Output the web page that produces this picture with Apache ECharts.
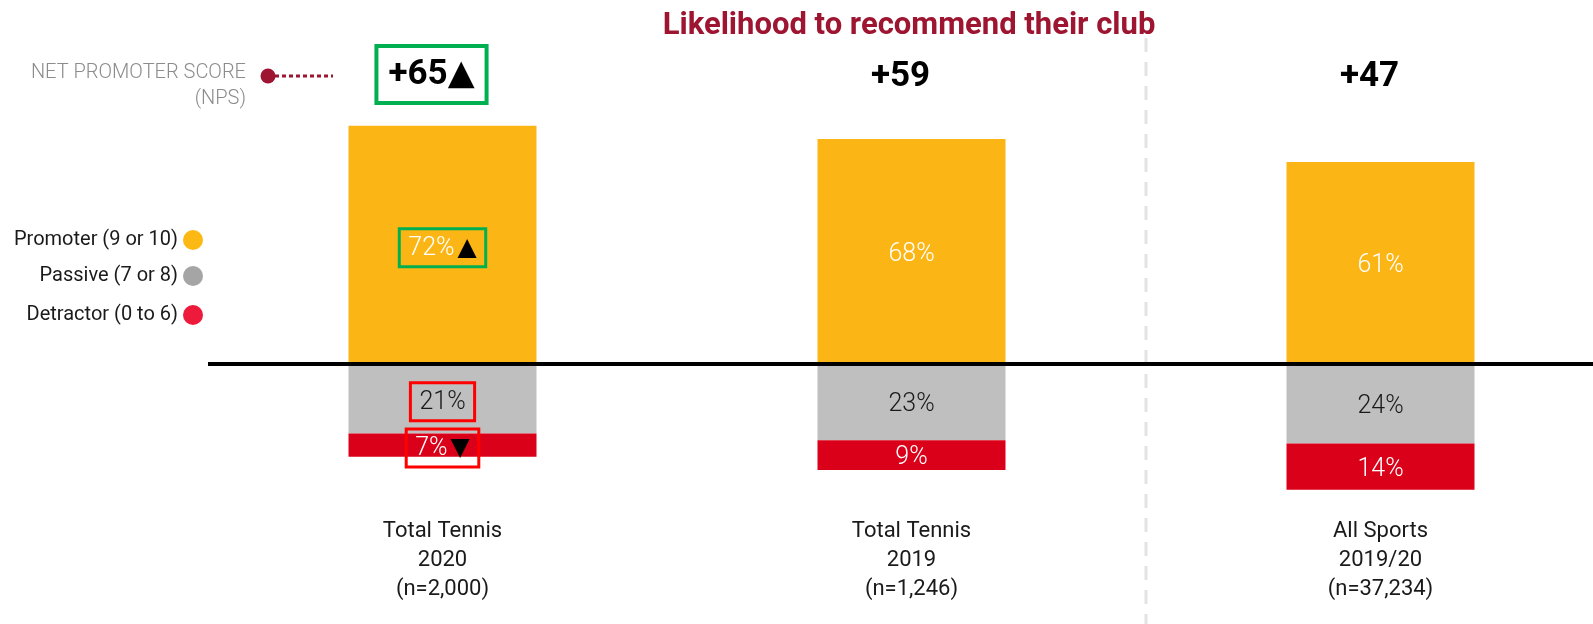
<!DOCTYPE html>
<html>
<head>
<meta charset="utf-8">
<script src="https://cdn.jsdelivr.net/npm/echarts@6/dist/echarts.min.js"></script>
<style>
html,body{margin:0;padding:0;background:#fff;}
#chart{width:1593px;height:624px;}
</style>
</head>
<body>
<div id="chart"></div>
<script>
// ---- data ----
const categories = ['Total Tennis\n2020\n(n=2,000)', 'Total Tennis\n2019\n(n=1,246)', 'All Sports\n2019/20\n(n=37,234)'];
const npsScores = ['+65', '+59', '+47'];
const npsMarks = ['▲', '', ''];
const npsHighlight = [true, false, false];
const promoterPct = [72, 68, 61];
const passivePct = [21, 23, 24];
const detractorPct = [7, 9, 14];
const promoterMarks = ['▲', '', ''];
const passiveMarks = ['', '', ''];
const detractorMarks = ['▼', '', ''];
const promoterHighlight = [true, false, false];
const passiveHighlight = [true, false, false];
const detractorHighlight = [true, false, false];
const seriesNames = ['Promoter (9 or 10)', 'Passive (7 or 8)', 'Detractor (0 to 6)'];

// ---- styling ----
const FONT = 'Roboto, "DejaVu Sans", sans-serif';
const barColors = ['#FBB615', '#BFBFBF', '#DA0019'];
const dotColors = ['#FDB913', '#A5A5A5', '#EE1A3C'];
const GREEN = '#00B050', RED = '#FF0000', MAROON = '#9D1530';

function buildData(values, highlight, boxColor, sign) {
  return values.map((v, i) => {
    const item = { value: sign * v };
    if (highlight[i]) {
      item.label = { borderColor: boxColor, borderWidth: 3, padding: [7, 9, 6, 9] };
    }
    return item;
  });
}
function labelFormatter(marks) {
  return p => {
    const m = marks[p.dataIndex];
    return '{v|' + Math.abs(p.value) + '%}' + (m ? '{m|' + m + '}' : '');
  };
}
function makeLabel(textColor, marks) {
  return {
    show: true, position: 'inside', offset: [0, 3],
    formatter: labelFormatter(marks),
    rich: {
      v: { color: textColor, fontSize: 25, fontWeight: 300, fontFamily: FONT },
      m: { color: '#000', fontSize: 25, fontFamily: FONT, padding: [0, 0, 0, 3] }
    }
  };
}

const chart = echarts.init(document.getElementById('chart'), null, { renderer: 'canvas' });

const legends = seriesNames.map((name, i) => ({
  data: [{ name: name, itemStyle: { color: dotColors[i] } }],
  icon: 'circle', itemWidth: 20, itemHeight: 20, align: 'right',
  right: 1390, top: [230, 266, 305][i], padding: 0,
  selectedMode: false,
  textStyle: { fontSize: 20, color: '#1a1a1a', fontFamily: FONT }
}));

const option = {
  animation: false,
  backgroundColor: '#fff',
  legend: legends,
  grid: { left: 208, width: 1407, top: 38, bottom: 0, containLabel: false, outerBoundsMode: 'none' },
  xAxis: [
    {
      type: 'category', data: categories, position: 'bottom',
      axisLine: { show: false }, axisTick: { show: false },
      axisLabel: {
        inside: true, margin: 20, fontSize: 22, lineHeight: 29,
        color: '#1a1a1a', fontFamily: FONT
      },
      splitLine: { show: false }
    },
    {
      type: 'category', data: categories, position: 'top',
      axisLine: { show: false }, axisTick: { show: false },
      splitLine: { show: false },
      axisLabel: {
        inside: true, margin: 8, padding: [0, 22, 0, 0],
        formatter: (val, idx) => {
          const t = npsScores[idx] + (npsMarks[idx] || '');
          return npsHighlight[idx] ? '{b|' + t + '}' : '{n|' + t + '}';
        },
        rich: {
          b: { fontSize: 35, fontWeight: 'bold', color: '#000', fontFamily: FONT,
               padding: [12, 12, 10, 12], borderColor: GREEN, borderWidth: 4 },
          n: { fontSize: 35, fontWeight: 'bold', color: '#000', fontFamily: FONT,
               padding: [14, 12, 12, 12] }
        }
      }
    }
  ],
  yAxis: { type: 'value', min: -78.55, max: 98.49, show: false, splitLine: { show: false } },
  series: [
    {
      name: seriesNames[0], type: 'bar', stack: 'nps', barWidth: 188,
      itemStyle: { color: barColors[0] },
      data: buildData(promoterPct, promoterHighlight, GREEN, 1),
      label: makeLabel('#fff', promoterMarks)
    },
    {
      name: seriesNames[1], type: 'bar', stack: 'nps', barWidth: 188,
      itemStyle: { color: barColors[1] },
      data: buildData(passivePct, passiveHighlight, RED, -1),
      label: makeLabel('#1a1a1a', passiveMarks)
    },
    {
      name: seriesNames[2], type: 'bar', stack: 'nps', barWidth: 188,
      itemStyle: { color: barColors[2] },
      data: buildData(detractorPct, detractorHighlight, RED, -1),
      label: makeLabel('#fff', detractorMarks),
      markLine: {
        silent: true, symbol: 'none', animation: false,
        label: { show: false },
        lineStyle: { color: '#000', width: 4, type: 'solid' },
        data: [{ yAxis: 0 }]
      }
    }
  ],
  graphic: [
    {
      id: 'title', type: 'text', x: 909, y: 26,
      style: { text: 'Likelihood to recommend their club', align: 'center', verticalAlign: 'middle',
               font: 'bold 31px ' + FONT, fill: MAROON }
    },
    {
      id: 'npsText', type: 'text', x: 246, y: 60,
      style: { text: 'NET PROMOTER SCORE\n(NPS)', align: 'right', verticalAlign: 'top',
               font: '300 20px ' + FONT, fill: '#8C8C8C', lineHeight: 26 }
    },
    {
      id: 'npsLine', type: 'line', shape: { x1: 268, y1: 76, x2: 333, y2: 76 },
      style: { stroke: MAROON, lineWidth: 3, lineDash: [4, 3] }
    },
    {
      id: 'npsDot', type: 'circle', shape: { cx: 268, cy: 76, r: 7.5 },
      style: { fill: MAROON }
    }
  ]
};
chart.setOption(option);

// dashed separator between the 2nd and 3rd category, located through the axis scale
const xa = chart.convertToPixel({ xAxisIndex: 0 }, categories[1]);
const xb = chart.convertToPixel({ xAxisIndex: 0 }, categories[2]);
const sepX = Math.round((xa + xb) / 2);
chart.setOption({
  graphic: [{
    id: 'sep', type: 'line', z: -1,
    shape: { x1: sepX, y1: 38, x2: sepX, y2: 624 },
    style: { stroke: '#E3E3E3', lineWidth: 3, lineDash: [14, 10] }
  }]
});
</script>
</body>
</html>
